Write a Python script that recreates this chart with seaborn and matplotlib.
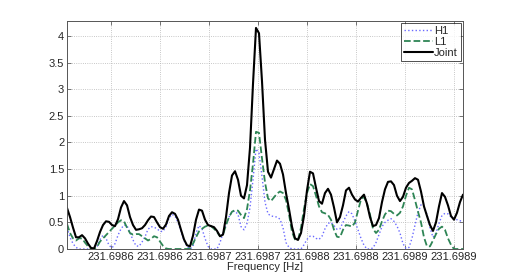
import numpy as np
import matplotlib
matplotlib.use('Agg')
import matplotlib.pyplot as plt
import seaborn as sns

# frequency grid (Hz), one sample every ~3.06 uHz
f_start = 231.6985551
f_step = 3.0612e-6
n_pts = 133

h1 = [0.40, 0.22, 0.10, 0.03, 0.00, 0.00, 0.00, 0.00, 0.00, 0.00,
      0.05, 0.18, 0.26, 0.20, 0.07, 0.02, 0.10, 0.26, 0.38, 0.45,
      0.44, 0.30, 0.17, 0.06, 0.05, 0.13, 0.23, 0.37, 0.42, 0.41,
      0.38, 0.33, 0.33, 0.42, 0.58, 0.65, 0.62, 0.50, 0.33, 0.16,
      0.05, 0.00, 0.05, 0.30, 0.44, 0.38, 0.20, 0.05, 0.00, 0.00,
      0.00, 0.12, 0.30, 0.45, 0.60, 0.70, 0.71, 0.65, 0.42, 0.36,
      0.48, 0.78, 1.30, 1.88, 1.80, 1.36, 0.88, 0.66, 0.62, 0.61,
      0.60, 0.56, 0.40, 0.12, 0.03, 0.00, 0.00, 0.00, 0.00, 0.08,
      0.18, 0.24, 0.24, 0.20, 0.18, 0.24, 0.38, 0.48, 0.50, 0.44,
      0.37, 0.38, 0.50, 0.62, 0.70, 0.66, 0.52, 0.36, 0.20, 0.07,
      0.00, 0.00, 0.02, 0.12, 0.27, 0.42, 0.50, 0.54, 0.57, 0.52,
      0.43, 0.30, 0.10, 0.01, 0.03, 0.20, 0.45, 0.68, 0.83, 0.80,
      0.65, 0.40, 0.22, 0.30, 0.48, 0.63, 0.67, 0.66, 0.60, 0.57,
      0.55, 0.53, 0.52]

l1 = [0.47, 0.30, 0.20, 0.16, 0.20, 0.20, 0.12, 0.05, 0.01, 0.00,
      0.04, 0.14, 0.20, 0.26, 0.32, 0.38, 0.44, 0.50, 0.54, 0.52,
      0.40, 0.30, 0.27, 0.28, 0.28, 0.24, 0.20, 0.16, 0.19, 0.24,
      0.22, 0.14, 0.06, 0.01, 0.00, 0.00, 0.00, 0.00, 0.00, 0.00,
      0.00, 0.01, 0.10, 0.22, 0.33, 0.38, 0.42, 0.44, 0.43, 0.38,
      0.32, 0.24, 0.27, 0.45, 0.60, 0.70, 0.73, 0.72, 0.64, 0.58,
      0.75, 1.10, 1.60, 2.20, 2.18, 1.70, 1.25, 0.95, 0.90, 0.97,
      1.04, 1.08, 1.05, 0.92, 0.65, 0.32, 0.18, 0.17, 0.40, 0.75,
      1.05, 1.22, 1.18, 1.00, 0.80, 0.69, 0.67, 0.64, 0.55, 0.36,
      0.23, 0.22, 0.36, 0.45, 0.44, 0.42, 0.50, 0.72, 0.93, 0.98,
      0.85, 0.65, 0.38, 0.30, 0.36, 0.52, 0.65, 0.72, 0.71, 0.66,
      0.63, 0.68, 0.80, 1.00, 1.15, 1.12, 0.92, 0.70, 0.50, 0.22,
      0.05, 0.05, 0.16, 0.28, 0.38, 0.42, 0.36, 0.20, 0.08, 0.00,
      0.00, 0.00, 0.00]

joint = [0.77, 0.60, 0.40, 0.22, 0.22, 0.26, 0.20, 0.10, 0.02, 0.01,
         0.15, 0.32, 0.45, 0.52, 0.51, 0.45, 0.43, 0.56, 0.78, 0.90,
         0.82, 0.60, 0.45, 0.36, 0.37, 0.39, 0.45, 0.54, 0.61, 0.60,
         0.50, 0.41, 0.38, 0.46, 0.62, 0.69, 0.66, 0.55, 0.36, 0.18,
         0.07, 0.05, 0.25, 0.55, 0.74, 0.72, 0.55, 0.45, 0.43, 0.41,
         0.34, 0.24, 0.27, 0.60, 1.05, 1.38, 1.46, 1.30, 1.00, 0.95,
         1.20, 1.90, 3.10, 4.15, 4.05, 3.15, 2.05, 1.45, 1.34, 1.50,
         1.66, 1.60, 1.40, 1.05, 0.75, 0.42, 0.20, 0.17, 0.30, 0.62,
         1.10, 1.45, 1.42, 1.15, 0.90, 0.85, 1.05, 1.13, 1.02, 0.78,
         0.50, 0.60, 0.82, 1.10, 1.15, 1.02, 0.93, 0.89, 0.96, 1.02,
         0.85, 0.60, 0.43, 0.45, 0.58, 0.88, 1.12, 1.26, 1.27, 1.20,
         1.00, 0.90, 0.98, 1.15, 1.24, 1.28, 1.33, 1.30, 1.08, 0.80,
         0.62, 0.45, 0.34, 0.50, 0.80, 1.05, 0.98, 0.82, 0.62, 0.55,
         0.68, 0.88, 1.02]

xtick_pos = [231.69860, 231.69865, 231.69870, 231.69875,
             231.69880, 231.69885, 231.69890, 231.69895]
xtick_labels = ['231.6986', '231.6986', '231.6987', '231.6987',
                '231.6988', '231.6988', '231.6989', '231.6989']
ytick_pos = [0, 0.5, 1, 1.5, 2, 2.5, 3, 3.5, 4]
ytick_labels = ['0', '0.5', '1', '1.5', '2', '2.5', '3', '3.5', '4']

freq = f_start + f_step * np.arange(n_pts)

sns.set_theme(style="ticks")
plt.rcParams['font.family'] = ['Liberation Sans', 'DejaVu Sans']

fig = plt.figure(figsize=(5.12, 2.8), dpi=100)
ax = fig.add_axes([0.1309, 0.1107, 0.7734, 0.8143])

sns.lineplot(x=freq, y=h1, ax=ax, color='#6a6aff', linestyle=':', linewidth=1.0, label='H1')
sns.lineplot(x=freq, y=l1, ax=ax, color='#2e8555', linestyle='--', linewidth=1.3, label='L1')
sns.lineplot(x=freq, y=joint, ax=ax, color='black', linestyle='-', linewidth=1.5, label='Joint')

ax.set_xlim(231.6985551, 231.6989592)
ax.set_ylim(0, 4.28)
ax.set_xticks(xtick_pos)
ax.set_xticklabels(xtick_labels)
ax.set_yticks(ytick_pos)
ax.set_yticklabels(ytick_labels)
ax.set_xlabel('Frequency [Hz]', fontsize=8, labelpad=0.5)
ax.set_ylabel('')

ax.grid(True, linestyle=':', color='#b5b5b5', linewidth=0.6)
ax.tick_params(direction='in', length=3, width=0.5, top=True, right=True,
               labelsize=8, pad=2, color='#444444')
for s in ax.spines.values():
    s.set_color('#555555')
    s.set_linewidth(0.7)

leg = ax.legend(loc='upper right', fontsize=8, frameon=True, fancybox=False,
                borderaxespad=0.2, handlelength=2.6, handletextpad=0.1,
                borderpad=0.25, labelspacing=0.1)
leg.get_frame().set_edgecolor('black')
leg.get_frame().set_linewidth(0.6)

fig.savefig('out.png', dpi=100)
plt.close(fig)
